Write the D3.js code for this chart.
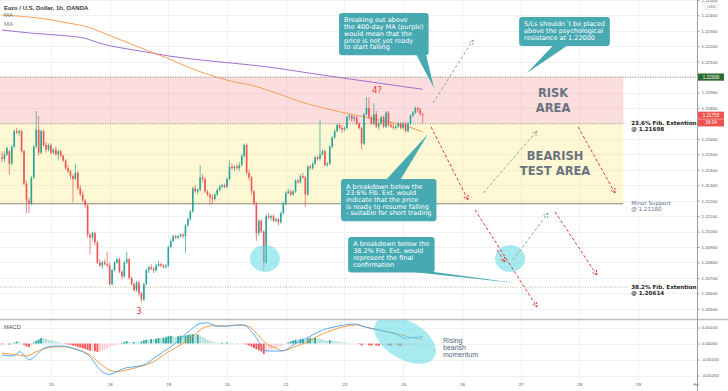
<!DOCTYPE html>
<html>
<head>
<meta charset="utf-8">
<script src="https://cdn.jsdelivr.net/npm/d3@7"></script>
<style>
  body { margin: 0; background: #fff; }
  svg { display: block; font-family: "Liberation Sans", Arial, sans-serif; }
</style>
</head>
<body>
<div id="chart"></div>
<script>
// EUR/USD 1h candles, [open, high, low, close] in pips above 1.20000 (1 pip = 0.0001)
let candles = [
  [148,152,145,147],[147,152,145,150],[150,155,149,154],[152,153,137,144],[144,156,143,155],
  [155,166,154,165],[165,167,163,164],[164,166,162,165],[165,166,151,152],[152,153,130,131],
  [131,133,112,120],[120,122,112,118],[118,136,117,135],[135,156,134,155],[155,178,154,166],
  [166,175,149,151],[151,166,150,165],[165,166,155,156],[156,158,151,153],[153,157,152,156],
  [156,157,150,151],[151,154,150,153],[153,155,149,150],[150,153,146,152],[152,153,148,149],
  [149,150,145,146],[146,147,140,141],[141,143,138,139],[139,140,134,136],[136,137,119,134],
  [134,144,133,138],[138,139,127,128],[128,130,123,124],[124,126,119,120],[120,121,115,117],
  [117,118,96,98],[98,99,85,96],[96,100,94,99],[99,100,91,93],[93,94,79,80],
  [80,82,77,78],[78,81,76,80],[80,82,78,79],[79,87,77,78],[78,80,65,66],
  [66,76,65,75],[75,81,74,80],[80,83,79,82],[82,83,73,74],[74,75,69,71],
  [71,81,70,80],[80,87,79,82],[82,83,69,70],[70,71,65,66],[66,67,61,62],
  [62,68,61,67],[67,68,58,60],[60,61,54,56],[56,67,55,66],[66,76,65,75],
  [75,78,73,77],[77,79,75,76],[76,77,73,75],[75,79,74,78],[78,81,77,79],
  [79,80,77,78],[78,79,76,77],[77,79,76,78],[78,91,77,90],[90,95,89,94],
  [94,98,93,97],[97,98,95,96],[96,98,95,97],[97,99,96,98],[98,99,96,97],
  [97,105,86,104],[104,109,103,108],[108,114,107,113],[113,129,112,128],[128,130,125,126],
  [126,128,124,127],[127,143,126,135],[135,137,132,134],[134,135,125,126],[126,127,123,124],
  [124,125,117,122],[122,124,118,121],[121,125,120,124],[124,128,123,127],[127,130,126,129],
  [129,131,128,130],[130,131,128,129],[129,135,128,134],[134,146,133,142],[142,144,140,141],
  [141,143,139,142],[142,144,140,141],[141,145,139,143],[143,150,142,149],[149,157,148,156],
  [156,157,137,138],[138,140,133,135],[135,136,124,126],[126,127,117,118],[118,119,94,99],
  [99,108,97,107],[107,108,99,100],[100,101,75,80],[80,111,79,110],[110,112,108,109],
  [109,111,107,110],[110,111,106,107],[107,109,106,108],[108,109,104,106],[106,113,105,112],
  [112,119,111,118],[118,126,117,125],[125,128,124,126],[126,127,123,124],[124,127,123,126],
  [126,134,125,133],[133,134,131,132],[132,137,131,136],[136,138,134,135],[135,136,116,124],
  [124,143,123,142],[142,143,140,141],[141,145,140,144],[144,149,143,148],[148,149,146,147],
  [147,172,146,150],[150,153,149,152],[152,153,142,143],[143,145,142,144],[144,156,143,155],
  [155,162,154,161],[161,166,160,165],[165,170,164,169],[169,170,166,167],[167,169,164,166],
  [166,168,165,167],[167,175,166,174],[174,176,172,175],[175,176,171,173],[173,175,171,174],
  [174,175,169,170],[170,171,166,167],[167,168,153,157],[157,177,156,176],[176,187,175,180],
  [180,187,173,174],[174,175,169,170],[170,183,169,176],[176,178,167,168],[168,171,166,170],
  [170,175,169,174],[174,175,167,168],[168,178,167,177],[177,178,168,169],[169,171,167,168],
  [168,170,166,167],[167,169,166,168],[168,171,167,170],[170,171,166,167],[167,171,166,170],
  [170,171,164,165],[165,171,164,170],[170,176,169,175],[175,178,174,177],[177,181,176,180],
  [180,181,177,179],[179,180,175,176],[176,177,170,175.3]
];

// day boundaries (bar index) and axis labels
let dayStarts = [20, 44, 68, 92, 116, 140, 164, 188, 212, 236, 260, 284];
let dayLabels = ["15", "18", "19", "20", "21", "22", "25", "26", "27", "28", "29", "Feb"];

// moving averages: [bar, pips]
let ma200 = [[0,240.1],[13,238.6],[27,235],[35,232.4],[40,229.5],[47,225.1],[54,220.6],[61,216.2],
  [68,212],[74,207.8],[81,203.5],[88,199.9],[95,196.8],[102,194.8],[109,191.3],[115,188.1],
  [122,184.1],[138,177.6],[151,173.2],[166,167.9],[172,164.5]];
let ma400 = [[0,230.5],[13,228.3],[27,226.6],[34,225.1],[40,221.9],[54,217.5],[62,215.4],[68,213.7],
  [81,211.1],[95,208.9],[108,206.7],[126,202.5],[142,198.8],[172,192.1]];

// MACD lines: [bar, value in 0.0001]
let macdLine = [[0,-7.2],[5,-7.8],[7,-5.1],[9,-7.2],[11,-10.3],[14,-7.2],[17,-3.0],[21,-1.6],[25,-1.6],
  [29,-3.0],[33,-5.1],[36,-8.2],[39,-14.5],[41,-17.6],[44,-19.3],[47,-17.6],[50,-15.5],[54,-14.5],
  [58,-13.4],[62,-9.3],[66,-5.1],[70,-0.9],[73,3.2],[77,8.4],[81,12.6],[84,12.9],[88,10.9],[92,10.9],
  [96,11.6],[99,11.6],[102,7.4],[105,1.1],[107,-4.5],[110,-4.7],[114,-4.7],[116,-4.0],[119,-0.9],
  [123,2.2],[127,5.3],[131,8.4],[135,10.1],[140,11.6],[144,12.2],[146,11.6],[149,10.1],[153,8.9],
  [157,7.4],[161,5.9],[165,3.2],[169,3.9],[172,4.3]];
let signalLine = [[0,-6.1],[5,-6.8],[10,-7.8],[14,-5.1],[20,-2.4],[25,-2.0],[30,-3.6],[36,-7.2],
  [40,-12.4],[44,-16.6],[47,-17.6],[51,-16.6],[56,-14.5],[62,-11.4],[67,-6.1],[73,-0.9],[78,4.3],
  [82,9.5],[86,11.1],[92,10.9],[97,11.6],[101,10.5],[104,6.4],[108,0.1],[112,-3.0],[115,-4.5],
  [119,-2.4],[125,1.1],[130,5.3],[135,8.4],[141,10.9],[145,11.6],[149,10.1],[154,8.4],[160,6.8],
  [165,4.7],[169,3.2],[172,2.8]];
// histogram, one value per bar (0.0001)
let macdHist = [
  -0.5,-0.3,-0.2,-0.6,-0.3,0.5,1.2,1.0,0.3,-0.8,-1.8,-2.2,-1.0,0.6,1.8,2.5,3.4,3.2,2.8,2.4,
  2.0,1.7,1.3,1.0,0.6,0.2,-0.3,-0.6,-0.8,-1.2,-1.6,-2.1,-2.6,-3.0,-3.4,-4.0,-4.5,-4.2,-4.8,-5.2,
  -5.0,-4.4,-3.8,-3.0,-2.2,-1.6,-1.0,-0.6,-0.3,0.4,1.0,1.4,0.9,0.6,0.9,0.8,0.7,1.3,2.0,2.4,
  2.2,2.8,2.6,3.0,3.4,3.2,3.6,3.9,4.6,4.8,4.4,4.0,4.5,4.9,4.6,5.0,5.3,5.6,5.8,5.4,
  5.6,4.8,4.0,3.2,2.5,1.8,1.3,0.9,0.6,0.4,0.5,0.4,0.6,0.5,0.3,0.1,0.2,0.1,-0.1,-0.2,
  -0.6,-1.2,-2.0,-2.8,-3.6,-4.2,-5.0,-6.6,-5.4,-4.6,-3.8,-3.2,-2.6,-2.0,-1.4,-0.8,-0.2,0.6,1.3,1.8,
  2.4,2.2,2.8,3.0,2.2,3.2,3.4,3.3,3.5,3.2,3.0,2.5,2.1,1.8,2.0,1.9,1.6,1.3,1.0,0.8,
  0.7,0.5,0.4,0.2,0.1,-0.1,-0.3,-1.2,-0.6,-0.4,-1.0,-1.4,-0.8,-1.2,-1.5,-1.0,-0.8,-0.6,-1.3,-1.4,
  -1.0,-0.7,-1.2,-1.5,-1.3,-1.0,-0.8,-0.6,-0.5,-0.4,-0.3,-0.2,-0.1
];

// key levels (pips above 1.20000)
let resistance = 200;    // 1.22000
let fib236 = 169.8;      // 1.21698
let minorSupport = 118;  // 1.21180
let fib382 = 64;         // 38.2% extension line as drawn
let lastPrice = 175.3;   // 1.21753

// ---------------------------------------------------------------
let w = 728, h = 391;
let plotW = 697;
let priceH = 319;
let macdTop = 320, macdBottom = 380;
let zoneEnd = 254;

let viz = d3.select("#chart").append("svg").attr("width", w).attr("height", h);

let xScale = d3.scaleLinear().domain([0, 284]).range([2, 696.7]);
let yScale = d3.scaleLinear().domain([43.4, 249.9]).range([priceH, 0]);
let mScale = d3.scaleLinear().domain([-22.8, 14.7]).range([macdBottom, macdTop]);

let defs = viz.append("defs");
defs.append("clipPath").attr("id", "clipPrice").append("rect")
  .attr("width", plotW).attr("height", priceH);
defs.append("clipPath").attr("id", "clipMacd").append("rect")
  .attr("y", macdTop).attr("width", plotW).attr("height", macdBottom - macdTop);

let priceTicks = d3.range(50, 251, 10);
let macdTicks = [10, 0, -10, -20];

// grid
let grid = viz.append("g").attr("stroke", "#eff1f5").attr("stroke-width", 1);
grid.selectAll(".hg").data(priceTicks).enter().append("line")
  .attr("x1", 0).attr("x2", plotW)
  .attr("y1", d => Math.round(yScale(d)) + 0.5).attr("y2", d => Math.round(yScale(d)) + 0.5);
grid.selectAll(".mg").data(macdTicks).enter().append("line")
  .attr("x1", 0).attr("x2", plotW)
  .attr("y1", d => Math.round(mScale(d)) + 0.5).attr("y2", d => Math.round(mScale(d)) + 0.5);
grid.selectAll(".vg").data(dayStarts).enter().append("line")
  .attr("x1", d => Math.round(xScale(d)) + 0.5).attr("x2", d => Math.round(xScale(d)) + 0.5)
  .attr("y1", 0).attr("y2", macdBottom);

let pane = viz.append("g").attr("clip-path", "url(#clipPrice)");

// zones
pane.append("rect").attr("x", 0).attr("width", xScale(zoneEnd))
  .attr("y", yScale(resistance)).attr("height", yScale(fib236) - yScale(resistance))
  .attr("fill", "rgba(245,124,124,0.25)");
pane.append("rect").attr("x", 0).attr("width", xScale(zoneEnd))
  .attr("y", yScale(fib236)).attr("height", yScale(minorSupport) - yScale(fib236))
  .attr("fill", "rgba(250,230,100,0.28)");

// level lines
pane.append("line").attr("x1", 0).attr("x2", plotW)
  .attr("y1", yScale(resistance)).attr("y2", yScale(resistance))
  .attr("stroke", "#8d8d8d").attr("stroke-dasharray", "1,1.5");
pane.append("line").attr("x1", 0).attr("x2", xScale(zoneEnd))
  .attr("y1", yScale(fib236)).attr("y2", yScale(fib236))
  .attr("stroke", "#9b9b8b").attr("stroke-dasharray", "1,1.5");
pane.append("line").attr("x1", 0).attr("x2", xScale(zoneEnd))
  .attr("y1", yScale(minorSupport)).attr("y2", yScale(minorSupport))
  .attr("stroke", "#7c8a74").attr("stroke-width", 1);
pane.append("line").attr("x1", 0).attr("x2", xScale(256))
  .attr("y1", yScale(fib382)).attr("y2", yScale(fib382))
  .attr("stroke", "#b7b79a").attr("stroke-dasharray", "1,1.5");

// moving averages
let maLine = d3.line().x(d => xScale(d[0])).y(d => yScale(d[1])).curve(d3.curveMonotoneX);
pane.append("path").datum(ma400).attr("d", maLine)
  .attr("fill", "none").attr("stroke", "#a070cf").attr("stroke-width", 1);
pane.append("path").datum(ma200).attr("d", maLine)
  .attr("fill", "none").attr("stroke", "#f5a05a").attr("stroke-width", 1);

// candles
let up = "#26a69a", down = "#ef5350";
let cg = pane.selectAll(".candle").data(candles).enter().append("g").attr("class", "candle");
cg.append("line")
  .attr("x1", (d, i) => xScale(i)).attr("x2", (d, i) => xScale(i))
  .attr("y1", d => yScale(d[1])).attr("y2", d => yScale(d[2]))
  .attr("stroke", d => d[3] >= d[0] ? up : down).attr("stroke-width", 0.7);
cg.append("rect")
  .attr("x", (d, i) => xScale(i) - 0.8).attr("width", 1.6)
  .attr("y", d => yScale(Math.max(d[0], d[3])))
  .attr("height", d => Math.max(0.6, Math.abs(yScale(d[0]) - yScale(d[3]))))
  .attr("fill", d => d[3] >= d[0] ? up : down);

// highlight circles
[[107.5, 82.6], [207.7, 82.6]].forEach(c => {
  pane.append("ellipse").attr("cx", xScale(c[0])).attr("cy", yScale(c[1]))
    .attr("rx", 15).attr("ry", 13.5).attr("fill", "#5fd8e3").attr("opacity", 0.55);
});

// projected paths
let projections = [
  { from: [176.2, 183.2], to: [192.6, 224], c: "#8fae8c" },
  { from: [175.4, 167.7], to: [190.5, 120.5], c: "#e53935" },
  { from: [196.7, 125], to: [218.7, 165.1], c: "#8fae8c" },
  { from: [193.4, 114], to: [218.7, 51.2], c: "#e53935" },
  { from: [208.9, 81.6], to: [223.2, 112], c: "#8fae8c" },
  { from: [202.4, 88.1], to: [205.6, 80.3], c: "#e53935" },
  { from: [226.1, 112.7], to: [243.2, 71.9], c: "#e53935" },
  { from: [235.5, 167.7], to: [250.6, 125], c: "#e53935" }
];
projections.forEach(p => {
  let x1 = xScale(p.from[0]), y1 = yScale(p.from[1]);
  let x2 = xScale(p.to[0]), y2 = yScale(p.to[1]);
  let a = Math.atan2(y2 - y1, x2 - x1);
  pane.append("line").attr("x1", x1).attr("y1", y1).attr("x2", x2).attr("y2", y2)
    .attr("stroke", p.c).attr("stroke-width", 1).attr("stroke-dasharray", "3,2.2");
  [0.5, -0.5].forEach(s => {
    pane.append("line").attr("x1", x2).attr("y1", y2)
      .attr("x2", x2 - 5 * Math.cos(a + s)).attr("y2", y2 - 5 * Math.sin(a + s))
      .attr("stroke", p.c).attr("stroke-width", 1).attr("stroke-dasharray", "2,1");
  });
});

// zone titles
let narrow = "'Liberation Sans Narrow', 'DejaVu Sans Condensed', sans-serif";
[{ t: ["RISK", "AREA"], at: [225.3, 185.2] }, { t: ["BEARISH", "TEST AREA"], at: [226.1, 144.7] }].forEach(z => {
  let tx = pane.append("text").attr("text-anchor", "middle").attr("font-family", narrow)
    .attr("font-weight", "bold").attr("font-size", 12.8).attr("fill", "#6b7380");
  z.t.forEach((l, i) => tx.append("tspan").attr("x", xScale(z.at[0]))
    .attr("y", yScale(z.at[1]) - 2.5 + i * 14.6).text(l));
});

// wave labels
pane.append("text").attr("x", xScale(153.3)).attr("y", yScale(191.7) + 3.5)
  .attr("text-anchor", "middle").attr("font-family", narrow).attr("font-size", 9.5)
  .attr("fill", "#e53935").text("4?");
pane.append("text").attr("x", xScale(56)).attr("y", yScale(48.6) + 3.5)
  .attr("text-anchor", "middle").attr("font-family", narrow).attr("font-size", 9.5)
  .attr("fill", "#e53935").text("3");

// level labels on the right
let levelLabels = [
  { lines: ["23.6% Fib. Extention", "@ 1.21698"], lvl: fib236, c: "#1f1f1f", wt: "bold" },
  { lines: ["Minor Support", "@ 1.21180"], lvl: minorSupport, c: "#5d6d8c", wt: "normal" },
  { lines: ["38.2% Fib. Extention", "@ 1.20614"], lvl: fib382, c: "#1f1f1f", wt: "bold" }
];
levelLabels.forEach(l => {
  let tx = viz.append("text").attr("font-family", "'DejaVu Sans', sans-serif")
    .attr("font-size", 5.6).attr("font-weight", l.wt).attr("fill", l.c);
  l.lines.forEach((s, i) => tx.append("tspan").attr("x", xScale(257.2))
    .attr("y", yScale(l.lvl) + 1.5 + i * 6).text(s));
});

// callouts
let callouts = [
  { lines: ["Breaking out above", "the 400-day MA (purple)", "would mean that the", "price is not yet ready", "to start falling"],
    at: [137.8, 241.5], tip: [176.6, 192.9], side: "bottom", base: [0.86, 0.97] },
  { lines: ["S/Ls shouldn\u00b4t be placed", "above the psychological", "resistance at 1.22000"],
    at: [211.4, 238.9], tip: [214.6, 202.7], side: "bottom", base: [0.38, 0.54] },
  { lines: ["A breakdown below the", "23.6% Fib. Ext. would", "indicate that the price", "is ready to resume falling", "- suitable for short trading"],
    at: [138.6, 134], tip: [174.2, 163.2], side: "top", base: [0.47, 0.62] },
  { lines: ["A breakdown below the", "38.2% Fib. Ext. would", "represent the final", "confirmation"],
    at: [141.5, 96.5], tip: [209.7, 66.7], side: "bottom", base: [0.7, 0.95] }
];
let teal = "#47aab3";
callouts.forEach(c => {
  let g = viz.append("g");
  let bx = xScale(c.at[0]), by = yScale(c.at[1]);
  let tail = g.append("path").attr("fill", teal);
  let box = g.append("rect").attr("fill", teal).attr("rx", 3);
  let tx = g.append("text").attr("font-family", "'DejaVu Sans', sans-serif")
    .attr("font-size", 6.5).attr("fill", "#fff");
  c.lines.forEach((s, i) => tx.append("tspan").attr("x", bx + 5).attr("y", by + 9.5 + i * 6.7).text(s));
  let bw = d3.max(tx.selectAll("tspan").nodes(), n => n.getComputedTextLength()) + 10;
  let bh = 9.5 + (c.lines.length - 1) * 6.7 + 6;
  box.attr("x", bx).attr("y", by).attr("width", bw).attr("height", bh);
  let ey = c.side == "bottom" ? by + bh - 1 : by + 1;
  let p = d3.path();
  p.moveTo(bx + bw * c.base[0], ey);
  p.lineTo(xScale(c.tip[0]), yScale(c.tip[1]));
  p.lineTo(bx + bw * c.base[1], ey);
  p.closePath();
  tail.attr("d", p.toString());
});

// ---- MACD pane
let mp = viz.append("g").attr("clip-path", "url(#clipMacd)");
mp.selectAll(".hist").data(macdHist).enter().append("rect")
  .attr("x", (d, i) => xScale(i) - 0.95).attr("width", 1.9)
  .attr("y", d => Math.min(mScale(d), mScale(0)))
  .attr("height", d => Math.abs(mScale(d) - mScale(0)))
  .attr("fill", (d, i) => {
    let prev = i > 0 ? macdHist[i - 1] : d;
    if (d >= 0) return d >= prev ? "#26a69a" : "#b2dfdb";
    return d <= prev ? "#ff5252" : "#ffcdd2";
  });
let mLine = d3.line().x(d => xScale(d[0])).y(d => mScale(d[1])).curve(d3.curveMonotoneX);
mp.append("path").datum(signalLine).attr("d", mLine)
  .attr("fill", "none").attr("stroke", "#f7902f").attr("stroke-width", 0.9);
mp.append("path").datum(macdLine).attr("d", mLine)
  .attr("fill", "none").attr("stroke", "#42a0f0").attr("stroke-width", 0.9);
mp.append("ellipse").attr("cx", xScale(164.8)).attr("cy", mScale(2.2))
  .attr("rx", 34).attr("ry", 19)
  .attr("transform", `rotate(30 ${xScale(164.8)} ${mScale(2.2)})`)
  .attr("fill", "#5fd8e3").attr("opacity", 0.55);
let mom = viz.append("text").attr("font-size", 7).attr("fill", "#56657a");
["Rising", "bearish", "momentum"].forEach((s, i) =>
  mom.append("tspan").attr("x", xScale(180.3)).attr("y", mScale(2.2) + 2.5 + i * 7).text(s));

viz.append("text").attr("x", 4).attr("y", 329).attr("font-size", 5.7).attr("fill", "#555").text("MACD");

// pane separator
viz.append("line").attr("x1", 0).attr("x2", w).attr("y1", 319.5).attr("y2", 319.5)
  .attr("stroke", "#bdbdbd").attr("stroke-width", 1.4);

// ---- axes
let xAxis = d3.axisBottom(xScale).tickValues(dayStarts)
  .tickFormat((d, i) => dayLabels[i]).tickSize(0).tickPadding(3);
let xg = viz.append("g").attr("transform", `translate(0,${macdBottom})`).call(xAxis);
xg.select(".domain").remove();
xg.selectAll("text").attr("font-size", 4.4).attr("fill", "#555").attr("font-family", "'Liberation Sans', Arial, sans-serif");

viz.append("rect").attr("x", plotW + 2).attr("y", macdBottom).attr("width", w - plotW - 2).attr("height", h - macdBottom).attr("fill", "#fff");

// price labels hidden under the axis tags are left out
let fmt5 = d => (1.2 + d / 10000).toFixed(5);
let tagged = [resistance, lastPrice, lastPrice - 5];
let axisTicks = priceTicks.filter(t => tagged.every(v => Math.abs(yScale(t) - yScale(v)) > 6));
let yAxis = d3.axisRight(yScale).tickValues(axisTicks).tickFormat(fmt5).tickSize(2.5).tickPadding(2);
let yg = viz.append("g").attr("transform", `translate(${plotW},0)`).call(yAxis);
let mAxis = d3.axisRight(mScale).tickValues(macdTicks).tickFormat(d => (d / 10000).toFixed(5)).tickSize(2.5).tickPadding(2);
let mg = viz.append("g").attr("transform", `translate(${plotW},0)`).call(mAxis);
[yg, mg].forEach(g => {
  g.select(".domain").remove();
  g.selectAll("line").attr("stroke", "#999");
  g.selectAll("text").attr("font-size", 4.4).attr("fill", "#555").attr("font-family", "'Liberation Sans', Arial, sans-serif");
});
viz.append("line").attr("x1", plotW + 0.5).attr("x2", plotW + 0.5).attr("y1", 0).attr("y2", h)
  .attr("stroke", "#9e9e9e").attr("stroke-width", 1);

// price tags on the axis
function tag(yPos, txt, fill) {
  viz.append("rect").attr("x", plotW + 1).attr("y", yPos - 3.6).attr("width", 26).attr("height", 7.2).attr("fill", fill);
  viz.append("text").attr("x", plotW + 14).attr("y", yPos + 1.6).attr("text-anchor", "middle")
    .attr("font-size", 4.6).attr("fill", "#fff").text(txt);
}
tag(yScale(resistance), "1.22000", "#2b6a2f");
tag(yScale(lastPrice), fmt5(lastPrice), "#ef5350");
tag(yScale(lastPrice) + 7.6, "18:04", "#ef5350");

viz.append("rect").attr("x", plotW + 8).attr("y", 3).attr("width", 13).attr("height", 6.5)
  .attr("fill", "#fff").attr("stroke", "#d0d0d0").attr("stroke-width", 0.5);
viz.append("text").attr("x", plotW + 14.5).attr("y", 7.8).attr("text-anchor", "middle")
  .attr("font-size", 4.2).attr("fill", "#777").text("USD");

// legend
viz.append("text").attr("x", 4).attr("y", 9.5).attr("font-size", 6).attr("font-weight", "bold")
  .attr("fill", "#3a3a3a").text("Euro / U.S. Dollar, 1h, OANDA");
viz.append("text").attr("x", 4).attr("y", 17.3).attr("font-size", 6).attr("fill", "#7a7a7a").text("MA");
viz.append("text").attr("x", 4).attr("y", 25.6).attr("font-size", 6).attr("fill", "#7a7a7a").text("MA");
</script>
</body>
</html>
